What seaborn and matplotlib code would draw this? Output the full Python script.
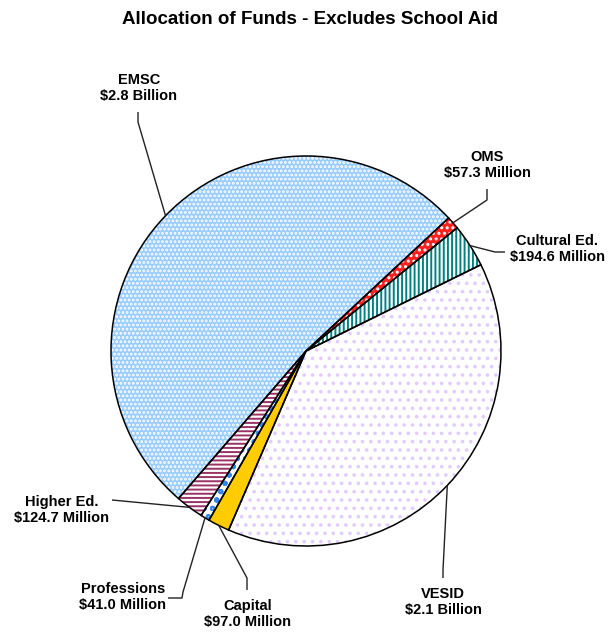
import matplotlib
matplotlib.use("Agg")
import matplotlib.pyplot as plt
import seaborn as sns
import numpy as np

sns.set_theme(style="white")
plt.rcParams['font.family'] = ['Liberation Sans', 'DejaVu Sans']
plt.rcParams['hatch.linewidth'] = 1.4

# ---- data (millions of dollars), counterclockwise from start angle ----
categories = ["EMSC", "Higher Ed.", "Professions", "Capital", "VESID", "Cultural Ed.", "OMS"]
values = [2800.0, 124.7, 41.0, 97.0, 2100.0, 194.6, 57.3]
value_labels = ["$2.8 Billion", "$124.7 Million", "$41.0 Million", "$97.0 Million",
                "$2.1 Billion", "$194.6 Million", "$57.3 Million"]

face_colors = ["#99CCFF", "#FFFFFF", "#FFFFFF", "#FFCC00", "#FFFFFF", "#FFFFFF", "#FF2020"]
hatch_colors = ["#FFFFFF", "#993366", "#3388EE", "#FFCC00", "#E2CCFF", "#008080", "#FFFFFF"]
hatches = ["....", "----", "oo", None, "..", "||||", "..."]

W, H = 609, 632
fig = plt.figure(figsize=(W / 100, H / 100), dpi=100)
ax = fig.add_axes([0, 0, 1, 1])

CX, CY, R = 306.0, 351.0, 195.0   # pie centre / radius in pixels

def P(px, py):
    return ((px - CX) / R, (CY - py) / R)

# fill + hatch layer
wedges, _ = ax.pie(values, startangle=43, counterclock=True, colors=face_colors,
                   wedgeprops=dict(linewidth=0))
for w, h, hc in zip(wedges, hatches, hatch_colors):
    if h:
        w.set_hatch(h)
        w.set_edgecolor(hc)
        w.set_linewidth(0)
# outline layer
ax.pie(values, startangle=43, counterclock=True, colors=["none"] * len(values),
       wedgeprops=dict(edgecolor="black", linewidth=1.1, fill=False))

# label layout (pixel positions of elbows and text centres)
layout = {
    "EMSC":         dict(path=[(138, 122), (138, 112)], text=(139, 88)),
    "Higher Ed.":   dict(path=[(112, 500)], text=(62, 510)),
    "Professions":  dict(path=[(183, 592), (182, 598), (168, 598)], text=(123, 597)),
    "Capital":      dict(path=[(247, 578), (247, 590)], text=(248, 614)),
    "VESID":        dict(path=[(443, 570), (443, 578)], text=(443, 602)),
    "Cultural Ed.": dict(path=[(495, 252), (505, 252)], text=(557, 249)),
    "OMS":          dict(path=[(487, 200), (487, 189)], text=(487, 165)),
}

for w, cat, vl in zip(wedges, categories, value_labels):
    mid = np.deg2rad((w.theta1 + w.theta2) / 2)
    x0, y0 = np.cos(mid), np.sin(mid)
    pts = [(x0, y0)] + [P(*p) for p in layout[cat]["path"]]
    xs, ys = zip(*pts)
    ax.plot(xs, ys, color="#222222", lw=1.0, solid_capstyle="butt")
    tx, ty = P(*layout[cat]["text"])
    ax.text(tx, ty, f"{cat}\n{vl}", ha="center", va="center", fontsize=10.5,
            fontweight="bold", color="black", linespacing=1.15)

tx, ty = P(310, 19)
ax.text(tx, ty, "Allocation of Funds - Excludes School Aid", ha="center", va="center",
        fontsize=13.5, fontweight="bold", color="black")

ax.set_aspect("auto")
ax.set_xlim(-CX / R, (W - CX) / R)
ax.set_ylim(-(H - CY) / R, CY / R)
ax.axis("off")

fig.savefig("out.png", dpi=100, facecolor="white")
